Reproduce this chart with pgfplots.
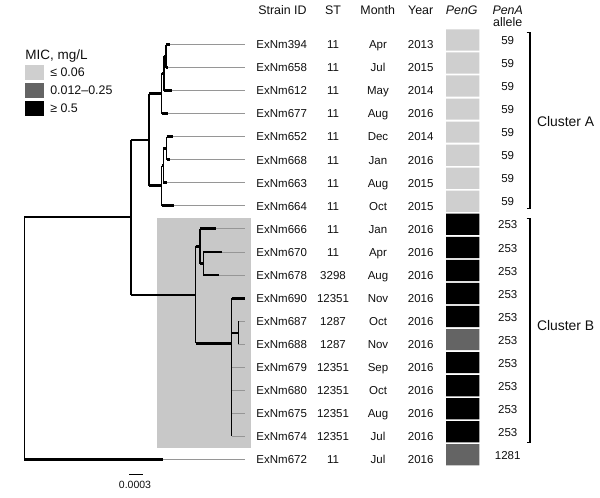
\documentclass[border=0pt]{standalone}
\usepackage{pgfplots}
\pgfplotsset{compat=1.18}
\usepackage{pgfplotstable}
\usepackage{fontspec}
\setmainfont{Liberation Sans}
\definecolor{lightbox}{RGB}{207,207,207}
\definecolor{midbox}{RGB}{100,100,100}
\definecolor{shade}{RGB}{200,200,200}
\definecolor{ext}{RGB}{150,150,150}
\definecolor{txt}{RGB}{15,15,15}
\pgfplotstableread{
y id st mon yr pena
44.5 ExNm394 11 Apr 2013 59
67.6 ExNm658 11 Jul 2015 59
90.6 ExNm612 11 May 2014 59
113.7 ExNm677 11 Aug 2016 59
136.7 ExNm652 11 Dec 2014 59
159.8 ExNm668 11 Jan 2016 59
182.8 ExNm663 11 Aug 2015 59
205.9 ExNm664 11 Oct 2015 59
228.9 ExNm666 11 Jan 2016 253
252.0 ExNm670 11 Apr 2016 253
275.0 ExNm678 3298 Aug 2016 253
298.1 ExNm690 12351 Nov 2016 253
321.1 ExNm687 1287 Oct 2016 253
344.2 ExNm688 1287 Nov 2016 253
367.2 ExNm679 12351 Sep 2016 253
390.3 ExNm680 12351 Oct 2016 253
413.3 ExNm675 12351 Aug 2016 253
436.4 ExNm674 12351 Jul 2016 253
459.4 ExNm672 11 Jul 2016 1281
}\rows
\newcommand{\datafont}{\fontsize{6.9}{8}\selectfont}
\newcommand{\headfont}{\fontsize{7.45}{8.5}\selectfont}
\begin{document}
\begin{tikzpicture}
\begin{axis}[
  width=360pt, height=298.2pt, scale only axis,
  xmin=0, xmax=600, ymin=0, ymax=497, y dir=reverse,
  hide axis, clip=false,
  unbounded coords=jump,
  txtcol/.style={draw=none, mark=none, nodes near coords={\datafont\pgfplotspointmeta}, point meta=explicit symbolic,
     every node near coord/.append style={anchor=base, inner sep=0pt, text=txt}},
]
% invisible frame for bounding box
\addplot[draw=none] coordinates {(0,0)(600,497)};
% shaded cluster B background
\addplot[fill=shade, draw=none] coordinates {(156.7,218.3)(250.7,218.3)(250.7,447.7)(156.7,447.7)} -- cycle;
% gray extension lines
\addplot[ext, line width=0.55pt] coordinates {
(170,44.5)(245,44.5) (nan,nan)
(168,67.6)(245,67.6) (nan,nan)
(171.7,90.6)(245,90.6) (nan,nan)
(168.3,113.7)(245,113.7) (nan,nan)
(173.3,136.7)(245,136.7) (nan,nan)
(170,159.8)(245,159.8) (nan,nan)
(166.7,182.8)(245,182.8) (nan,nan)
(174,205.9)(245,205.9) (nan,nan)
(216,228.9)(245,228.9) (nan,nan)
(221.7,252)(245,252) (nan,nan)
(219,275)(245,275) (nan,nan)
(238.3,321.1)(245,321.1) (nan,nan)
(238.3,344.2)(245,344.2) (nan,nan)
(231.7,367.2)(245,367.2) (nan,nan)
(231.7,390.3)(245,390.3) (nan,nan)
(231.7,413.3)(245,413.3) (nan,nan)
(231.7,436.4)(245,436.4) (nan,nan)
(162.7,459.4)(245,459.4)
};
% thin verticals
\addplot[black, line width=0.9pt] coordinates {
(24.3,216.7)(24.3,459.4) (nan,nan)
(131,140)(131,295) (nan,nan)
(149,93.5)(149,185.6) (nan,nan)
(161.7,73.3)(161.7,113.7) (nan,nan)
(164,56)(164,90.6) (nan,nan)
(166,44.5)(166,67.6) (nan,nan)
(161.7,165.5)(161.7,205.9) (nan,nan)
(163.3,148.2)(163.3,182.8) (nan,nan)
(166.7,136.7)(166.7,159.8) (nan,nan)
(195.7,246.4)(195.7,343.3) (nan,nan)
(200,228.9)(200,263.5) (nan,nan)
(203.3,252)(203.3,275) (nan,nan)
(231.7,298.1)(231.7,436.4) (nan,nan)
(238.3,321.1)(238.3,344.2)
};
% root horizontal
\addplot[black, line width=1.3pt] coordinates {(24.3,216.7)(131,216.7)};
% thick horizontal branches
\addplot[black, line width=1.7pt] coordinates {
(131,140)(149,140) (nan,nan)
(149,93.5)(161.7,93.5) (nan,nan)
(161.7,73.3)(164,73.3) (nan,nan)
(164,56)(166,56) (nan,nan)
(166,44.5)(170,44.5) (nan,nan)
(166,67.6)(168,67.6) (nan,nan)
(164,90.6)(171.7,90.6) (nan,nan)
(161.7,113.7)(168.3,113.7) (nan,nan)
(149,185.6)(161.7,185.6) (nan,nan)
(161.7,165.5)(163.3,165.5) (nan,nan)
(163.3,148.2)(166.7,148.2) (nan,nan)
(166.7,136.7)(173.3,136.7) (nan,nan)
(166.7,159.8)(170,159.8) (nan,nan)
(163.3,182.8)(166.7,182.8) (nan,nan)
(161.7,205.9)(174,205.9) (nan,nan)
(131,295)(195.7,295) (nan,nan)
(195.7,246.4)(200,246.4) (nan,nan)
(200,228.9)(216,228.9) (nan,nan)
(200,263.5)(203.3,263.5) (nan,nan)
(203.3,252)(221.7,252) (nan,nan)
(203.3,275)(219,275) (nan,nan)
(195.7,343.3)(231.7,343.3) (nan,nan)
(231.7,298.1)(245,298.1) (nan,nan)
(231.7,333)(238.3,333) (nan,nan)
(24.3,459.4)(162.7,459.4)
};
% scale bar
\addplot[black, line width=0.8pt] coordinates {(129,474.3)(143.3,474.3)};
% PenG boxes
\addplot[fill=lightbox, draw=none] coordinates {
(446,29.3)(479.3,29.3)(479.3,50.5)(446,50.5) (nan,nan)
(446,52.4)(479.3,52.4)(479.3,73.6)(446,73.6) (nan,nan)
(446,75.4)(479.3,75.4)(479.3,96.6)(446,96.6) (nan,nan)
(446,98.5)(479.3,98.5)(479.3,119.7)(446,119.7) (nan,nan)
(446,121.5)(479.3,121.5)(479.3,142.7)(446,142.7) (nan,nan)
(446,144.6)(479.3,144.6)(479.3,165.8)(446,165.8) (nan,nan)
(446,167.6)(479.3,167.6)(479.3,188.8)(446,188.8) (nan,nan)
(446,190.7)(479.3,190.7)(479.3,211.9)(446,211.9)
};
\addplot[fill=black, draw=none] coordinates {
(446,213.7)(479.3,213.7)(479.3,234.9)(446,234.9) (nan,nan)
(446,236.8)(479.3,236.8)(479.3,258.0)(446,258.0) (nan,nan)
(446,259.8)(479.3,259.8)(479.3,281.0)(446,281.0) (nan,nan)
(446,282.9)(479.3,282.9)(479.3,304.1)(446,304.1) (nan,nan)
(446,305.9)(479.3,305.9)(479.3,327.1)(446,327.1) (nan,nan)
(446,352.0)(479.3,352.0)(479.3,373.2)(446,373.2) (nan,nan)
(446,375.1)(479.3,375.1)(479.3,396.3)(446,396.3) (nan,nan)
(446,398.1)(479.3,398.1)(479.3,419.3)(446,419.3) (nan,nan)
(446,421.2)(479.3,421.2)(479.3,442.4)(446,442.4)
};
\addplot[fill=midbox, draw=none] coordinates {
(446,329.0)(479.3,329.0)(479.3,350.2)(446,350.2) (nan,nan)
(446,444.2)(479.3,444.2)(479.3,465.4)(446,465.4)
};
% legend swatches
\addplot[fill=lightbox, draw=none] coordinates {(25,65)(43.7,65)(43.7,80)(25,80)} -- cycle;
\addplot[fill=midbox, draw=none] coordinates {(25,83.3)(43.7,83.3)(43.7,98.3)(25,98.3)} -- cycle;
\addplot[fill=black, draw=none] coordinates {(25,101)(43.7,101)(43.7,116)(25,116)} -- cycle;
% cluster brackets
\addplot[black, line width=0.7pt] coordinates {
(526.5,32.7)(530,32.7)(530,208.3)(526.5,208.3) (nan,nan)
(526.5,218.3)(530,218.3)(530,442.3)(526.5,442.3)
};
% table columns
\addplot[txtcol] table[x expr=281.7, y expr=\thisrow{y}+4.2, meta=id] {\rows};
\addplot[txtcol] table[x expr=333, y expr=\thisrow{y}+4.2, meta=st] {\rows};
\addplot[txtcol] table[x expr=378, y expr=\thisrow{y}+4.2, meta=mon] {\rows};
\addplot[txtcol] table[x expr=420.7, y expr=\thisrow{y}+4.2, meta=yr] {\rows};
\addplot[txtcol] table[x expr=507.7, y expr=\thisrow{y}, meta=pena] {\rows};
% headers
\node[anchor=base, inner sep=0pt, font=\headfont, text=txt] at (axis cs:282.5,14) {Strain ID};
\node[anchor=base, inner sep=0pt, font=\headfont, text=txt] at (axis cs:333,14) {ST};
\node[anchor=base, inner sep=0pt, font=\headfont, text=txt] at (axis cs:377.7,14) {Month};
\node[anchor=base, inner sep=0pt, font=\headfont, text=txt] at (axis cs:420.7,14) {Year};
\node[anchor=base, inner sep=0pt, font=\headfont\itshape, text=txt] at (axis cs:461.7,14) {PenG};
\node[anchor=base, inner sep=0pt, font=\headfont\itshape, text=txt] at (axis cs:507.7,14) {PenA};
\node[anchor=base, inner sep=0pt, font=\headfont, text=txt] at (axis cs:507.7,26) {allele};
% cluster labels
\node[anchor=base west, inner sep=0pt, font=\fontsize{8.35}{10}\selectfont, text=txt] at (axis cs:536.7,126.7) {Cluster A};
\node[anchor=base west, inner sep=0pt, font=\fontsize{8.35}{10}\selectfont, text=txt] at (axis cs:536.7,330.7) {Cluster B};
% legend text
\node[anchor=base west, inner sep=0pt, font=\fontsize{8.1}{10}\selectfont, text=txt] at (axis cs:25,59) {MIC, mg/L};
\node[anchor=base west, inner sep=0pt, font=\headfont, text=txt] at (axis cs:50,76.5) {≤ 0.06};
\node[anchor=base west, inner sep=0pt, font=\headfont, text=txt] at (axis cs:50,94.5) {0.012–0.25};
\node[anchor=base west, inner sep=0pt, font=\headfont, text=txt] at (axis cs:50,112.5) {≥ 0.5};
% scale label
\node[anchor=base, inner sep=0pt, font=\fontsize{6.3}{7.5}\selectfont, text=txt] at (axis cs:135,488) {0.0003};
\end{axis}
\end{tikzpicture}
\end{document}
